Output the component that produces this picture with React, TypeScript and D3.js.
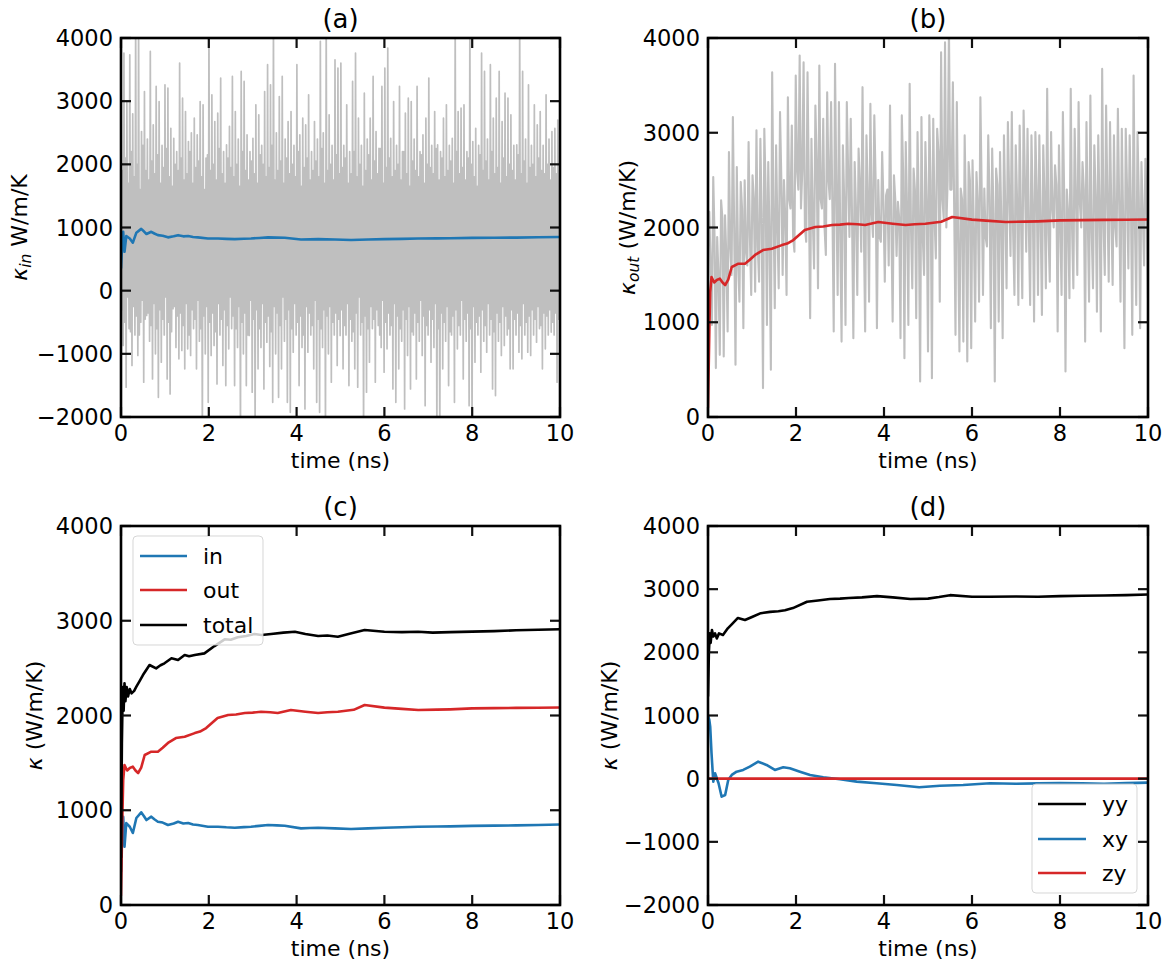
import React from 'react';
import * as d3 from 'd3';

// ---------------- data ----------------
const timeTicks = [0, 2, 4, 6, 8, 10];
const kappaTicksWide = [-2000, -1000, 0, 1000, 2000, 3000, 4000];
const kappaTicksPos = [0, 1000, 2000, 3000, 4000];

// panel (a): instantaneous in-plane kappa, read as peaks / troughs / dense core (0 -> 10 ns)
const inPeaks = [
  3656, 3762, 3000, 3735, 2800, 4300, 4300, 2518, 3153, 2400,
  3788, 2624, 3233, 2995, 2300, 3259, 3206, 2571, 2413, 2200,
  3603, 3048, 2836, 2360, 2500, 2730, 2466, 2995, 2942, 2100,
  4300, 3100, 2677, 2810, 3365, 2200, 2307, 2600, 3392, 2836,
  2400, 3471, 3312, 2466, 2200, 2413, 2942, 2783, 2300, 3153,
  3577, 3259, 4300, 2500, 3074, 3392, 2400, 2677, 2836, 2300,
  3577, 2466, 2730, 2624, 3100, 2200, 2677, 2400, 3947, 2500,
  4300, 2783, 2300, 3656, 3524,
  3603, 2300, 2942, 2200, 3312, 3762, 2730, 2300, 3127, 2400,
  2730, 3392, 2518, 2254, 3233, 3524, 3841, 2413, 2995, 2300,
  3233, 2200, 2810, 3048, 2995, 2400, 3233, 2200, 2466, 2730,
  3365, 2300, 2836, 2307, 2200, 2730, 2942, 2300, 2413, 4300,
  2836, 2889, 2942, 2200, 4300, 2360, 2571, 2300, 3762, 3471,
  2400, 3577, 2730, 3048, 3471, 2677, 3127, 3048, 2783, 2300,
  2307, 4300, 3471, 2400, 3259, 2300, 2942, 2624, 2836, 2300,
  3100, 2400, 2518, 2571, 2700,
];
const inTroughs = [
  -868, -1529, -600, -1185, -700, -1026, -500, -1450, -392, -800,
  -1397, -1000, -1688, -1132, -700, -1397, -1635, -286, -900, -1079,
  -947, -1238, -921, -1026, -600, -1238, -800, -2300, -1000, -1767,
  -1026, -868, -1476, -700, -1185, -1503, -921, -600, -1503, -900,
  -2300, -1000, -1503, -709, -1608, -2300, -1238, -900, -1556, -815,
  -1200, -1767, -1000, -1688, -1238, -800, -1767, -1926, -974, -700,
  -1503, -900, -1873, -974, -700, -1238, -1767, -1926, -900, -2300,
  -1000, -1450, -700, -1185, -709,
  -1238, -700, -1503, -800, -1238, -1529, -700, -2300, -1608, -1132,
  -600, -1450, -550, -900, -1291, -921, -700, -1556, -1767, -1238,
  -800, -1873, -1026, -1556, -700, -1397, -800, -1026, -1820, -700,
  -1132, -900, -2300, -2300, -1238, -800, -1503, -700, -1767, -921,
  -700, -1397, -800, -1820, -2300, -1132, -700, -1291, -800, -974,
  -700, -1556, -1661, -800, -1026, -868, -700, -1238, -1238, -700,
  -974, -1079, -700, -974, -1026, -700, -815, -600, -1238, -921,
  -700, -656, -700, -1450, -900,
];
const inCoreHigh = [
  1900, 2100, 1700, 2200, 1800, 2000, 1600, 2300, 1900, 1750,
  2050, 1850, 2150, 1700, 1950, 2250, 1800, 1650, 2000, 1900,
  2100, 1750, 1850, 2200, 1700, 1950, 2050, 1800, 1600, 2150,
  1900, 2000, 1750, 2250, 1850, 1700, 2100, 1950, 1800, 2000,
  1650, 2200, 1900, 1750, 2050, 1850, 1700, 2150, 2000, 1800,
  1950, 2300, 1750, 1900, 2050, 1700, 2100, 1850, 2000, 1800,
  2200, 1650, 1950, 2100, 1750, 1900, 2050, 1800, 2250, 1700,
  1900, 2000, 1750, 2150, 1850,
  1950, 2100, 1700, 1850, 2200, 1800, 2000, 1650, 1900, 2150,
  1750, 2050, 1850, 2250, 1700, 1950, 2100, 1800, 1900, 2000,
  1750, 2200, 1850, 1650, 2050, 1900, 1800, 2150, 1700, 2000,
  1950, 1850, 2250, 1750, 2100, 1800, 1900, 2050, 1700, 2200,
  1850, 1950, 1750, 2100, 2000, 1800, 1650, 2150, 1900, 2050,
  1750, 2200, 1850, 1950, 1700, 2100, 1800, 2000, 1900, 1750,
  2150, 1850, 2050, 1700, 1950, 2000, 1800, 2100, 1900, 1850,
  2000, 1750, 1950, 1850, 1900,
];
const inCoreLow = [
  -300, -500, -100, -650, -250, -400, -700, -150, -450, -350,
  -550, -200, -600, -300, -450, -100, -500, -650, -250, -400,
  -350, -550, -200, -700, -300, -450, -150, -600, -400, -250,
  -500, -350, -650, -200, -450, -300, -550, -100, -400, -600,
  -250, -500, -350, -700, -150, -450, -300, -600, -200, -500,
  -400, -650, -250, -350, -550, -100, -450, -300, -600, -200,
  -500, -400, -700, -250, -350, -550, -150, -450, -600, -300,
  -400, -250, -500, -350, -450,
  -300, -550, -200, -450, -650, -350, -100, -500, -400, -600,
  -250, -450, -300, -700, -150, -500, -350, -550, -200, -400,
  -600, -300, -450, -250, -650, -350, -500, -150, -400, -550,
  -300, -450, -200, -600, -350, -500, -250, -650, -400, -300,
  -550, -150, -450, -350, -600, -250, -500, -400, -300, -550,
  -200, -450, -650, -350, -500, -250, -400, -600, -300, -450,
  -350, -550, -200, -500, -400, -300, -450, -250, -550, -350,
  -400, -300, -500, -350, -450,
];

// panel (b): instantaneous out-of-plane kappa (0 -> 10 ns), extrema plus dense core
const outRaw = [
  1800, 2165, 972, 2533, 516, 1900, 656, 2288, 639, 2130,
  902, 2797, 1500, 3165, 551, 2639, 1217, 2481, 937, 2498,
  1600, 2902, 1288, 2551, 1323, 3025, 1428, 2937, 305, 3042,
  972, 2691, 498, 3639, 1147, 2867, 1358, 3218, 1498, 2500,
  1288, 3375, 2200, 3077, 1744, 3604, 2400, 3814, 2600, 3744,
  1849, 3639, 1042, 2937, 1568, 3288, 1358, 3709, 2200, 3147,
  1709, 3428, 2300, 3323, 902, 3727, 1288, 3323, 796, 2867,
  972, 3323, 1900, 3147, 832, 2691, 1288, 2832, 1744, 3481,
  902, 2972, 1217, 3305, 1900, 3183, 937, 2500, 1849, 2797,
  1428, 2340, 1600, 3288, 1007, 2551, 1700, 2270, 832, 3183,
  621, 2902, 972, 3516, 1358, 2621, 1042, 3007, 375, 3165,
  1500, 2902, 691,
  3183, 410, 3147, 1674, 3042, 1217, 3849, 2095, 3954, 2500,
  4100, 2400, 3533, 867, 3323, 691, 2411, 796, 2972, 586,
  2691, 726, 2709, 1007, 2586, 1217, 3375, 1288, 2411, 1800,
  2972, 937, 2832, 375, 2621, 1007, 2797, 832, 2972, 1358,
  3112, 1700, 3218, 1288, 2867, 1182, 3077, 1253, 3235, 1744,
  3042, 1182, 2972, 1007, 3007, 1288, 2972, 1077, 2867, 1358,
  3463, 1428, 3007, 2000, 2656, 902, 2867, 1288, 3218, 481,
  2400, 1253, 3463, 1358, 3042, 1498, 3323, 2000, 2691, 796,
  3112, 1217, 3393, 1358, 2867, 1112, 2972, 902, 3674, 1498,
  3288, 1428, 3112, 1393, 2972, 1800, 3253, 1217, 3042, 726,
  3042, 1568, 2972, 867, 3604, 1182, 3007, 937, 2691, 1600,
  2726, 1253,
];
const outCore = [
  1600, 1900, 1500, 2100, 1700, 1800, 2000, 1650, 2200, 1750,
  1900, 2300, 1800, 2100, 2400, 1900, 2200, 2000, 2500, 2100,
  2300, 1900, 2600, 2200, 2000, 2400, 2100, 2700, 2300, 2000,
  2500, 2200, 2400, 1900, 2300, 2600, 2100, 2200, 2450, 2000,
  2350, 2150, 2500, 1900, 2250, 2400, 2050, 2300, 2100, 2600,
  2200, 2000, 2400, 2150, 1900, 2300,
  2500, 2100, 2800, 2300, 2000, 2400, 2200, 1900, 2300, 2100,
  2500, 2000, 2250, 2400, 1900, 2300, 2150, 2450, 2050, 2200,
  2350, 1950, 2300, 2100, 2500, 2000, 2250, 2400, 2100, 2300,
  1950, 2200, 2450, 2050, 2350, 2150, 2000, 2300, 2250, 2400,
  2100, 1950, 2350, 2200, 2050, 2300, 2150, 2000, 2250, 2100,
  2400, 2200, 2050, 2300, 2150, 2250,
];

// running averages
const inTime = [0, 0.03, 0.05, 0.08, 0.12, 0.2, 0.27, 0.35, 0.46, 0.52, 0.58, 0.69, 0.76, 0.84, 0.95, 1.07, 1.2, 1.3, 1.42, 1.53, 1.64, 1.75, 1.98, 2.21, 2.4, 2.59, 2.8, 2.96, 3.15, 3.35, 3.55, 3.73, 4.1, 4.3, 4.49, 4.87, 5.24, 5.63, 6.0, 6.4, 6.77, 7.2, 7.5, 8.0, 8.5, 9.0, 9.5, 10];
const inAvg = [350, 800, 932, 615, 865, 826, 760, 918, 978, 940, 897, 932, 905, 879, 870, 844, 860, 879, 860, 865, 850, 844, 826, 826, 820, 816, 822, 826, 835, 844, 840, 837, 809, 812, 816, 809, 802, 809, 816, 820, 826, 828, 830, 835, 838, 840, 845, 850];

const outTime = [0, 0.03, 0.05, 0.08, 0.14, 0.2, 0.27, 0.33, 0.39, 0.46, 0.54, 0.69, 0.84, 0.95, 1.07, 1.25, 1.45, 1.68, 1.8, 1.94, 2.2, 2.44, 2.62, 2.82, 3.0, 3.19, 3.4, 3.57, 3.87, 4.2, 4.49, 4.7, 4.94, 5.3, 5.55, 6.0, 6.4, 6.77, 7.2, 7.5, 8, 8.5, 9, 9.5, 10];
const outAvg = [100, 900, 1319, 1478, 1420, 1446, 1460, 1420, 1393, 1450, 1583, 1618, 1618, 1660, 1710, 1762, 1776, 1814, 1830, 1868, 1974, 2005, 2010, 2026, 2030, 2040, 2035, 2026, 2058, 2040, 2026, 2035, 2040, 2060, 2111, 2083, 2070, 2058, 2062, 2065, 2075, 2078, 2080, 2082, 2085];

const totalTime = [0, 0.02, 0.04, 0.06, 0.08, 0.1, 0.13, 0.16, 0.2, 0.24, 0.3, 0.35, 0.42, 0.5, 0.65, 0.8, 0.9, 0.99, 1.15, 1.3, 1.45, 1.55, 1.68, 1.9, 2.13, 2.36, 2.5, 2.66, 2.85, 3.04, 3.2, 3.42, 3.7, 3.96, 4.2, 4.49, 4.7, 4.94, 5.25, 5.55, 6.0, 6.4, 6.77, 7.1, 7.5, 8, 8.5, 9, 9.5, 10];
const totalAvg = [500, 1700, 2300, 2050, 2340, 2150, 2300, 2200, 2280, 2234, 2260, 2304, 2360, 2427, 2533, 2498, 2530, 2551, 2604, 2586, 2639, 2625, 2639, 2656, 2733, 2804, 2800, 2825, 2840, 2860, 2850, 2860, 2875, 2884, 2860, 2839, 2845, 2832, 2867, 2902, 2884, 2880, 2884, 2875, 2880, 2885, 2890, 2900, 2905, 2910];

const yyTime = [0, 0.02, 0.04, 0.06, 0.09, 0.12, 0.16, 0.2, 0.25, 0.34, 0.45, 0.55, 0.68, 0.84, 1.0, 1.2, 1.41, 1.6, 1.75, 1.93, 2.25, 2.5, 2.77, 3.0, 3.2, 3.5, 3.84, 4.2, 4.6, 5.0, 5.25, 5.5, 6.0, 6.4, 7, 7.5, 8, 8.5, 9, 9.5, 10];
const yyAvg = [1300, 2000, 2300, 2150, 2354, 2250, 2300, 2220, 2300, 2275, 2380, 2450, 2544, 2512, 2560, 2620, 2640, 2650, 2665, 2700, 2800, 2820, 2845, 2850, 2860, 2870, 2890, 2870, 2845, 2850, 2875, 2905, 2880, 2880, 2885, 2880, 2890, 2895, 2900, 2905, 2915];

const xyTime = [0, 0.03, 0.05, 0.08, 0.12, 0.16, 0.24, 0.31, 0.39, 0.46, 0.54, 0.65, 0.8, 0.95, 1.14, 1.33, 1.52, 1.71, 1.86, 2.09, 2.32, 2.62, 3.0, 3.38, 3.83, 4.29, 4.8, 5.27, 5.8, 6.41, 7, 7.5, 8, 8.5, 9, 9.5, 10];
const xyAvg = [1000, 929, 823, 402, -47, 85, -73, -285, -258, -21, 59, 111, 138, 190, 269, 217, 138, 180, 164, 111, 59, 22, -10, -47, -73, -100, -136, -111, -100, -73, -80, -75, -70, -75, -80, -70, -63];

const zyTime = [0, 2, 4, 6, 8, 10];
const zyAvg = [0, 0, 0, 0, 0, 0];

// ---------------- styles ----------------
const FONT = '"DejaVu Sans", Verdana, sans-serif';
const BLUE = '#1f77b4';
const RED = '#d62728';
const GRAY = '#bfbfbf';
const TICK_FS = 22.5;
const LABEL_FS = 22;
const TITLE_FS = 26;

function evenTimes(n: number) {
  return d3.range(n).map((i) => (i * 10) / (n - 1));
}

const inRaw: number[] = [];
inPeaks.forEach((p, i) => inRaw.push(p, inCoreLow[i], inCoreHigh[i], inTroughs[i]));

const outSeries: number[] = [];
for (let j = 0; j < outRaw.length; j += 2) {
  outSeries.push(outRaw[j]);
  if (j + 1 < outRaw.length) outSeries.push(outRaw[j + 1]);
  if (j / 2 < outCore.length) outSeries.push(outCore[j / 2]);
}

type Series = { t: number[]; v: number[]; color: string; width: number };
type Box = { left: number; top: number; right: number; bottom: number };

const fmt = (v: number) => (v < 0 ? '\u2212' + Math.abs(v) : String(v));

function Legend({ x, y, w, h, items, rows, lx1, lx2, tx }: any) {
  return (
    <g>
      <rect x={x} y={y} width={w} height={h} rx={4} fill="white" fillOpacity={0.8} stroke="#cccccc" strokeOpacity={0.8} strokeWidth={1} />
      {items.map((it: any, i: number) => (
        <g key={i}>
          <line x1={lx1} x2={lx2} y1={rows[i]} y2={rows[i]} stroke={it.color} strokeWidth={2.6} />
          <text x={tx} y={rows[i]} dominantBaseline="central" fontSize={LABEL_FS} fontFamily={FONT} fill="#000">{it.label}</text>
        </g>
      ))}
    </g>
  );
}

function Panel({ id, box, yDomain, yTicks, title, ylabel, labelX, series, legend }: any) {
  const b: Box = box;
  const xs = d3.scaleLinear().domain([0, 10]).range([b.left, b.right]);
  const ys = d3.scaleLinear().domain(yDomain).range([b.bottom, b.top]);
  const cx = (b.left + b.right) / 2;
  const cy = (b.top + b.bottom) / 2;
  const TL = 10;
  return (
    <g>
      <defs>
        <clipPath id={'clip-' + id}>
          <rect x={b.left} y={b.top} width={b.right - b.left} height={b.bottom - b.top} />
        </clipPath>
      </defs>
      <g clipPath={`url(#clip-${id})`}>
        {series.map((s: Series, i: number) => {
          const line = d3
            .line<number>()
            .x((_, k) => xs(s.t[k]))
            .y((d) => ys(d));
          return <path key={i} d={line(s.v) || ''} fill="none" stroke={s.color} strokeWidth={s.width} strokeLinejoin="round" />;
        })}
      </g>
      {legend}
      {timeTicks.map((t) => (
        <g key={'xt' + t}>
          <line x1={xs(t)} x2={xs(t)} y1={b.bottom} y2={b.bottom - TL} stroke="#111" strokeWidth={2.2} />
          <line x1={xs(t)} x2={xs(t)} y1={b.top} y2={b.top + TL} stroke="#111" strokeWidth={2.2} />
          <text x={xs(t)} y={b.bottom + 24} textAnchor="middle" fontSize={TICK_FS} fontFamily={FONT}>{fmt(t)}</text>
        </g>
      ))}
      {yTicks.map((v: number) => (
        <g key={'yt' + v}>
          <line x1={b.left} x2={b.left + TL} y1={ys(v)} y2={ys(v)} stroke="#111" strokeWidth={2.2} />
          <line x1={b.right} x2={b.right - TL} y1={ys(v)} y2={ys(v)} stroke="#111" strokeWidth={2.2} />
          <text x={b.left - 8} y={ys(v)} textAnchor="end" dominantBaseline="central" fontSize={TICK_FS} fontFamily={FONT}>{fmt(v)}</text>
        </g>
      ))}
      <rect x={b.left} y={b.top} width={b.right - b.left} height={b.bottom - b.top} fill="none" stroke="#000" strokeWidth={2.6} />
      <text x={cx} y={b.top - 10} textAnchor="middle" fontSize={TITLE_FS} fontFamily={FONT}>{title}</text>
      <text x={cx} y={b.bottom + 51} textAnchor="middle" fontSize={LABEL_FS} fontFamily={FONT}>time (ns)</text>
      <text transform={`translate(${labelX},${cy}) rotate(-90)`} textAnchor="middle" fontSize={LABEL_FS} fontFamily={FONT}>
        {ylabel}
      </text>
    </g>
  );
}

export default function App() {
  const boxA = { left: 121, top: 38, right: 560, bottom: 417 };
  const boxB = { left: 708, top: 38, right: 1148, bottom: 417 };
  const boxC = { left: 121, top: 526, right: 560, bottom: 905 };
  const boxD = { left: 708, top: 526, right: 1148, bottom: 905 };

  const kappa = (sub?: string) => (
    <>
      <tspan fontStyle="italic">κ</tspan>
      {sub ? (
        <tspan fontStyle="italic" fontSize={15.5} dy={4}>{sub}</tspan>
      ) : null}
    </>
  );

  return (
    <svg width={1171} height={971} style={{ position: 'absolute', left: 0, top: 0, background: '#fff' }}>
      <rect x={0} y={0} width={1171} height={971} fill="#fff" />
      <Panel
        id="a"
        box={boxA}
        yDomain={[-2000, 4000]}
        yTicks={kappaTicksWide}
        title="(a)"
        labelX={27}
        ylabel={<>{kappa('in')}<tspan dy={-4}> W/m/K</tspan></>}
        series={[
          { t: evenTimes(inRaw.length), v: inRaw, color: GRAY, width: 1.7 },
          { t: inTime, v: inAvg, color: BLUE, width: 2.6 },
        ]}
      />
      <Panel
        id="b"
        box={boxB}
        yDomain={[0, 4000]}
        yTicks={kappaTicksPos}
        title="(b)"
        labelX={635}
        ylabel={<>{kappa('out')}<tspan dy={-4}> (W/m/K)</tspan></>}
        series={[
          { t: evenTimes(outSeries.length), v: outSeries, color: GRAY, width: 2.1 },
          { t: outTime, v: outAvg, color: RED, width: 2.6 },
        ]}
      />
      <Panel
        id="c"
        box={boxC}
        yDomain={[0, 4000]}
        yTicks={kappaTicksPos}
        title="(c)"
        labelX={42}
        ylabel={<>{kappa()}<tspan> (W/m/K)</tspan></>}
        series={[
          { t: inTime, v: inAvg, color: BLUE, width: 2.6 },
          { t: outTime, v: outAvg, color: RED, width: 2.6 },
          { t: totalTime, v: totalAvg, color: '#000', width: 2.6 },
        ]}
        legend={
          <Legend
            x={133} y={536} w={130} h={109}
            rows={[556, 590, 625]} lx1={140} lx2={187} tx={203}
            items={[{ label: 'in', color: BLUE }, { label: 'out', color: RED }, { label: 'total', color: '#000' }]}
          />
        }
      />
      <Panel
        id="d"
        box={boxD}
        yDomain={[-2000, 4000]}
        yTicks={kappaTicksWide}
        title="(d)"
        labelX={617}
        ylabel={<>{kappa()}<tspan> (W/m/K)</tspan></>}
        series={[
          { t: yyTime, v: yyAvg, color: '#000', width: 2.6 },
          { t: xyTime, v: xyAvg, color: BLUE, width: 2.6 },
          { t: zyTime, v: zyAvg, color: RED, width: 2.6 },
        ]}
        legend={
          <Legend
            x={1032} y={784} w={105} h={109}
            rows={[804, 839, 873]} lx1={1038} lx2={1086} tx={1102}
            items={[{ label: 'yy', color: '#000' }, { label: 'xy', color: BLUE }, { label: 'zy', color: RED }]}
          />
        }
      />
    </svg>
  );
}
